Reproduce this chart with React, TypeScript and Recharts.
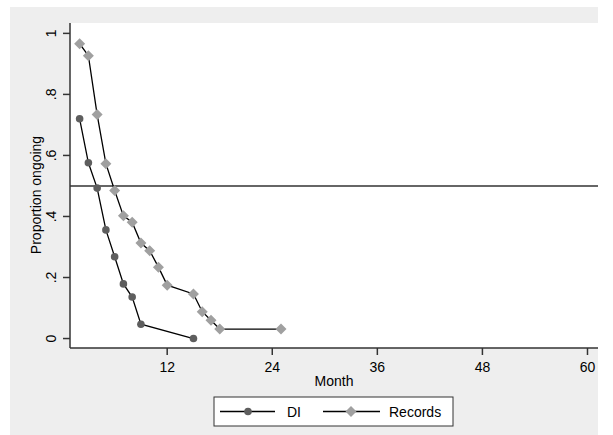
import React from "react";
import {
  LineChart,
  Line,
  XAxis,
  YAxis,
  ReferenceLine,
} from "recharts";

const diMonths = [2, 3, 4, 5, 6, 7, 8, 9, 15];
const diValues = [0.72, 0.576, 0.493, 0.356, 0.268, 0.179, 0.136, 0.047, 0];

const recordsMonths = [2, 3, 4, 5, 6, 7, 8, 9, 10, 11, 12, 15, 16, 17, 18, 25];
const recordsValues = [
  0.966, 0.927, 0.734, 0.573, 0.485, 0.402, 0.381, 0.313, 0.288, 0.234,
  0.175, 0.146, 0.088, 0.06, 0.031, 0.031,
];

const xTicks = [12, 24, 36, 48, 60];
const yTicks = [0, 0.2, 0.4, 0.6, 0.8, 1];
const seriesNames = ["DI", "Records"];

const FONT = "'Liberation Sans', Arial, sans-serif";
const DI_FILL = "#5e5e5e";
const REC_FILL = "#a0a0a0";

const diData = diMonths.map((m, i) => ({ month: m, value: diValues[i] }));
const recordsData = recordsMonths.map((m, i) => ({
  month: m,
  value: recordsValues[i],
}));

const fmtY = (v: number) =>
  v === 0 ? "0" : v === 1 ? "1" : v.toFixed(1).replace(/^0/, "");

const YTick = (props: any) => {
  const { x, y, payload } = props;
  return (
    <text
      transform={`translate(${x - 5},${y}) rotate(-90)`}
      textAnchor="middle"
      fontSize={14}
      fontFamily={FONT}
      fill="#000"
    >
      {fmtY(payload.value)}
    </text>
  );
};

const Diamond = (props: any) => {
  const { cx, cy } = props;
  if (cx == null || cy == null) return null;
  const r = 5.5;
  return (
    <path
      d={`M${cx},${cy - r}L${cx + r},${cy}L${cx},${cy + r}L${cx - r},${cy}Z`}
      fill={REC_FILL}
    />
  );
};

const Dot = (props: any) => {
  const { cx, cy } = props;
  if (cx == null || cy == null) return null;
  return <circle cx={cx} cy={cy} r={3.8} fill={DI_FILL} />;
};

export default function App() {
  return (
    <div
      style={{
        position: "absolute",
        left: 0,
        top: 0,
        width: 613,
        height: 435,
        fontFamily: FONT,
      }}
    >
      <svg
        style={{ position: "absolute", left: 0, top: 0, zIndex: 0 }}
        width={613}
        height={435}
      >
        <rect x={0} y={0} width={613} height={435} fill="#ffffff" />
        <rect x={10} y={7} width={588} height={428} fill="#eeeeee" />
        <rect x={70} y={23} width={528} height={325} fill="#ffffff" />
      </svg>
      <div style={{ position: "absolute", left: 0, top: 0, zIndex: 1 }}>
        <LineChart
          width={613}
          height={435}
          margin={{ top: 23, right: 15, bottom: 0, left: 0 }}
        >
          <XAxis
            type="number"
            dataKey="month"
            domain={[0.9, 61.2]}
            ticks={xTicks}
            allowDataOverflow
            height={87}
            tickSize={7}
            tickMargin={7}
            stroke="#333"
            strokeWidth={1.5}
            tick={{ fontSize: 14, fill: "#000", fontFamily: FONT }}
            label={(p: any) => {
              const vb = p.viewBox || {};
              return (
                <text
                  x={vb.x + vb.width / 2}
                  y={386}
                  textAnchor="middle"
                  fontSize={14}
                  fontFamily={FONT}
                  fill="#000"
                >
                  Month
                </text>
              );
            }}
          />
          <YAxis
            type="number"
            dataKey="value"
            domain={[-0.031, 1.034]}
            ticks={yTicks}
            allowDataOverflow
            width={70}
            tickSize={7}
            stroke="#333"
            strokeWidth={1.5}
            tick={<YTick />}
            label={() => (
              <text
                transform={`translate(41,195) rotate(-90)`}
                textAnchor="middle"
                fontSize={14}
                fontFamily={FONT}
                fill="#000"
              >
                Proportion ongoing
              </text>
            )}
          />
          <ReferenceLine y={0.5} stroke="#333" strokeWidth={1.5} />
          <Line
            data={diData}
            dataKey="value"
            name={seriesNames[0]}
            type="linear"
            stroke="#000"
            strokeWidth={1.3}
            dot={<Dot />}
            isAnimationActive={false}
          />
          <Line
            data={recordsData}
            dataKey="value"
            name={seriesNames[1]}
            type="linear"
            stroke="#000"
            strokeWidth={1.3}
            dot={<Diamond />}
            isAnimationActive={false}
          />
        </LineChart>
      </div>
      <svg
        style={{ position: "absolute", left: 0, top: 0, zIndex: 2 }}
        width={613}
        height={435}
      >
        <rect
          x={214}
          y={397}
          width={239}
          height={29}
          fill="#fff"
          stroke="#333"
          strokeWidth={1}
        />
        <line x1={220} y1={411.5} x2={275} y2={411.5} stroke="#000" strokeWidth={1.3} />
        <circle cx={248} cy={411.5} r={3.8} fill={DI_FILL} />
        <text x={287} y={417} fontSize={14} fontFamily={FONT} fill="#000">
          {seriesNames[0]}
        </text>
        <line x1={323} y1={411.5} x2={380} y2={411.5} stroke="#000" strokeWidth={1.3} />
        <path d="M351,406L356.5,411.5L351,417L345.5,411.5Z" fill={REC_FILL} />
        <text x={389} y={417} fontSize={14} fontFamily={FONT} fill="#000">
          {seriesNames[1]}
        </text>
      </svg>
    </div>
  );
}
